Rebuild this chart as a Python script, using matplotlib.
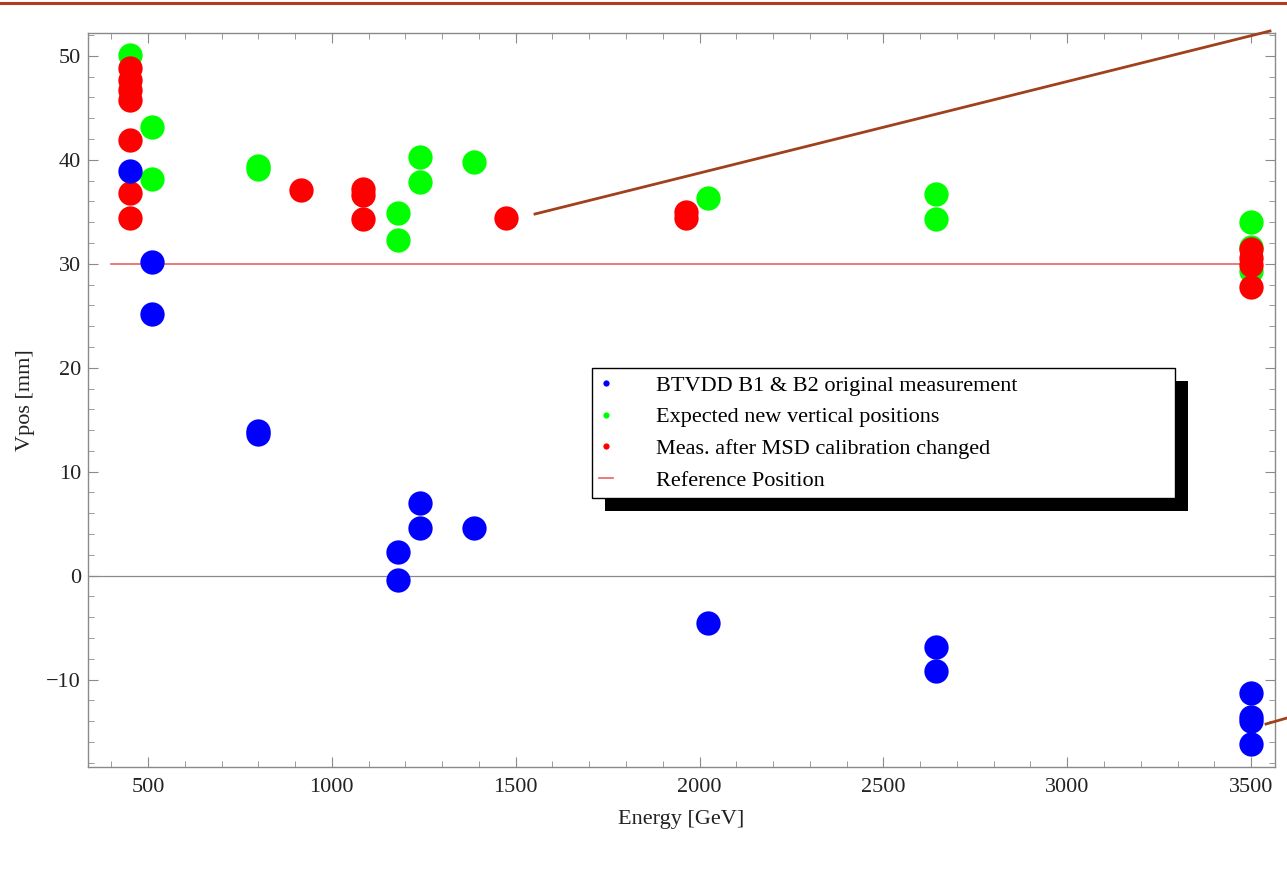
import matplotlib
matplotlib.use("Agg")
import matplotlib.pyplot as plt
from matplotlib.lines import Line2D
from matplotlib.patches import Rectangle
from matplotlib.ticker import MultipleLocator

plt.rcParams['font.family'] = ['Liberation Serif', 'DejaVu Serif']

# BTVDD B1 & B2 original measurement
blue_e = [450, 511, 511, 800, 800, 1180, 1180, 1240, 1240, 1387, 2024, 2644, 2644,
          3500, 3500, 3500, 3500]
blue_v = [38.9, 30.2, 25.2, 13.6, 13.9, 2.3, -0.4, 7.0, 4.6, 4.6, -4.6, -6.9, -9.2,
          -11.3, -13.6, -14.0, -16.2]

# Expected new vertical positions
green_e = [450, 511, 511, 800, 800, 1180, 1180, 1240, 1240, 1387, 2024, 2644, 2644,
           3500, 3500, 3500]
green_v = [50.1, 43.2, 38.2, 39.4, 39.1, 34.9, 32.3, 40.3, 37.9, 39.8, 36.3, 36.7, 34.3,
           34.0, 31.6, 29.3]

# Measurements after MSD calibration changed
red_e = [450, 450, 450, 450, 450, 450, 450, 916, 1085, 1085, 1085, 1474, 1964, 1964,
         3500, 3500, 3500, 3500]
red_v = [48.8, 47.7, 46.7, 45.8, 41.9, 36.8, 34.4, 37.1, 37.2, 36.6, 34.3, 34.4, 35.0, 34.4,
         31.4, 30.6, 29.9, 27.8]

ref_e = [400, 3500]
ref_v = [30, 30]

x_ticks = [500, 1000, 1500, 2000, 2500, 3000, 3500]
y_ticks = [-10, 0, 10, 20, 30, 40, 50]

fig = plt.figure(figsize=(12.87, 8.84), dpi=100)
ax = fig.add_axes([0.0684, 0.1324, 0.9223, 0.8303])

frame_col = '#8a8a8a'
ref_col = '#e87070'
ms = 17.5
fs = 16

ax.axhline(0, color='#8a8a8a', lw=0.9, zorder=1)
ax.plot(ref_e, ref_v, color=ref_col, lw=1.3, zorder=1.5)
ax.plot(green_e, green_v, 'o', color='#00ff00', ms=ms, mec='none', zorder=2)
ax.plot(red_e, red_v, 'o', color='#ff0000', ms=ms, mec='none', zorder=3)
ax.plot(blue_e, blue_v, 'o', color='#0000ff', ms=ms, mec='none', zorder=4)

ax.set_xlim(337, 3565)
ax.set_ylim(-18.4, 52.2)
ax.set_xticks(x_ticks)
ax.set_yticks(y_ticks)
ax.set_yticklabels([("\u2212" + str(-t)) if t < 0 else str(t) for t in y_ticks])
ax.xaxis.set_minor_locator(MultipleLocator(100))
ax.yaxis.set_minor_locator(MultipleLocator(2))
ax.tick_params(which='both', direction='in', top=True, right=True, colors=frame_col,
               labelcolor='#222222', labelsize=fs)
ax.tick_params(which='major', length=7, width=0.8)
ax.tick_params(which='minor', length=4, width=0.6)
ax.tick_params(axis='x', pad=8)
ax.tick_params(axis='y', pad=5)
for sp in ax.spines.values():
    sp.set_color(frame_col)
    sp.set_linewidth(1.0)

ax.set_xlabel('Energy [GeV]', fontsize=fs, color='#222222', labelpad=9)
ax.set_ylabel('Vpos [mm]', fontsize=fs, color='#222222', labelpad=8)

handles = [
    Line2D([], [], ls='none', marker='o', ms=4.5, color='#0000ff', mec='none'),
    Line2D([], [], ls='none', marker='o', ms=4.5, color='#00ff00', mec='none'),
    Line2D([], [], ls='none', marker='o', ms=4.5, color='#ff0000', mec='none'),
    Line2D([], [], color=ref_col, lw=1.3),
]
labels = ['BTVDD B1 & B2 original measurement',
          'Expected new vertical positions',
          'Meas. after MSD calibration changed',
          'Reference Position']
leg = ax.legend(handles, labels, loc='upper left',
                bbox_to_anchor=(0.4246, 0.3678, 0.4912, 0.1758), mode='expand',
                fontsize=fs, frameon=True, fancybox=False, framealpha=1,
                edgecolor='black', borderpad=0.32, handlelength=0.62,
                handletextpad=1.95, labelspacing=0.5, borderaxespad=0)
leg.get_frame().set_linewidth(1.0)
leg.set_zorder(10)

# Drop shadow offset down and to the right of the legend box
fig.canvas.draw()
bb = leg.get_window_extent()
shadow = Rectangle((bb.x0 + 13, bb.y0 - 13), bb.width, bb.height,
                   transform=None, facecolor='black', edgecolor='none', zorder=9)
ax.add_artist(shadow)

# Slide decorations: header rule and callout lines
W, H = 1287.0, 884.0
fig.add_artist(Line2D([0, 1], [1 - 3 / H, 1 - 3 / H], color='#b5391a', lw=2.2,
                      transform=fig.transFigure))
fig.add_artist(Line2D([535 / W, 1270 / W], [1 - 214 / H, 1 - 31 / H], color='#a0401c',
                      lw=2.0, transform=fig.transFigure))
fig.add_artist(Line2D([1266 / W, 1287 / W], [1 - 724 / H, 1 - 718 / H], color='#a0401c',
                      lw=2.0, transform=fig.transFigure))

fig.savefig('out.png', dpi=100)
